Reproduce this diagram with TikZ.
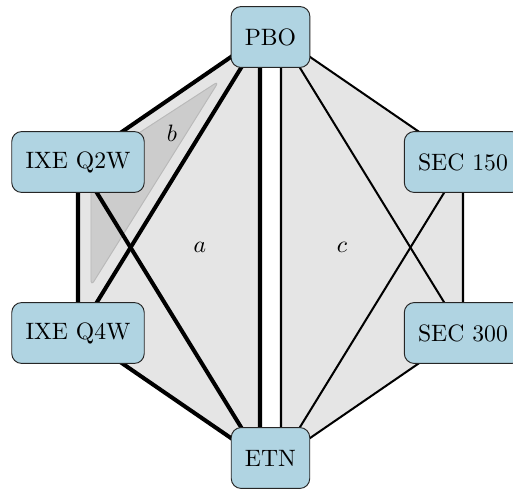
\documentclass[tikz,border=0pt]{standalone}
\usetikzlibrary{backgrounds,calc}
\definecolor{boxblue}{RGB}{176,212,226}
\tikzset{
  station/.style={draw=black!85, fill=boxblue, rounded corners=4.2pt,
    inner xsep=5.8pt, inner ysep=0pt, minimum height=25.7pt, line width=0.4pt},
  heavyedge/.style={line width=1.7pt, line join=round},
  lightedge/.style={line width=0.85pt, line join=round},
  region/.style={fill=gray!20},
  subregion/.style={fill=gray!40, draw=gray!55, line width=0.4pt, rounded corners=2.5pt},
}
\begin{document}
\begin{tikzpicture}[x=0.422pt, y=-0.422pt]
  \useasboundingbox (0,0) rectangle (513,489);
  \clip (0,0) rectangle (513,489);

  % stations
  \node[station] (pbo) at (270.5,37)  {PBO};
  \node[station] (etn) at (270.5,458) {ETN};
  \node[station] (q2w) at (78,162)    {IXE Q2W};
  \node[station] (q4w) at (78,333)    {IXE Q4W};
  \node[station] (s150) at (463,162)  {SEC 150};
  \node[station] (s300) at (463,333)  {SEC 300};

  % split anchors on the top and bottom stations
  \coordinate (pboL) at ($(pbo.center)+(-10.5,0)$);
  \coordinate (pboR) at ($(pbo.center)+(10.5,0)$);
  \coordinate (etnL) at ($(etn.center)+(-10.5,0)$);
  \coordinate (etnR) at ($(etn.center)+(10.5,0)$);

  \begin{scope}[on background layer]
    % regions a and c
    \fill[region] (pboL) -- (q2w.center) -- (q4w.center) -- (etnL) -- cycle;
    \fill[region] (pboR) -- (s150.center) -- (s300.center) -- (etnR) -- cycle;
    % region b
    \path[subregion] (219,81) -- (91,164) -- (91,286) -- cycle;
    % left group
    \draw[heavyedge] (pboL) -- (q2w.center) -- (q4w.center) -- (etnL) -- cycle;
    \draw[heavyedge] (pboL) -- (q4w.center);
    \draw[heavyedge] (q2w.center) -- (etnL);
    % right group
    \draw[lightedge] (pboR) -- (s150.center) -- (s300.center) -- (etnR) -- cycle;
    \draw[lightedge] (pboR) -- (s300.center);
    \draw[lightedge] (s150.center) -- (etnR);
  \end{scope}

  % region labels
  \node (la) at (200,247) {$a$};
  \node (lb) at (172,133) {$b$};
  \node (lc) at (342,247) {$c$};
\end{tikzpicture}
\end{document}
